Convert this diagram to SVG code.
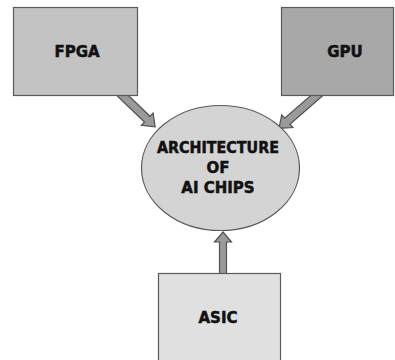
<svg xmlns="http://www.w3.org/2000/svg" width="395" height="360" viewBox="0 0 395 360">
<style>
.box{stroke:#5a5a5a;stroke-width:1.2}
.lbl{font-family:"DejaVu Sans","Liberation Sans",sans-serif;font-weight:bold;font-size:15px;fill:#111;stroke:#111;stroke-width:0.5;text-anchor:middle}
.arr{fill:#9a9a9a;stroke:#505050;stroke-width:1.2;stroke-linejoin:miter}
</style>
<rect width="395" height="360" fill="#fff"/>
<g id="connectors">
<polygon class="arr" transform="translate(117,90) rotate(44)" points="0,-4 42,-4 42,-8.5 53,0 42,8.5 42,4 0,4"/>
<polygon class="arr" transform="translate(322,91) rotate(139)" points="0,-4 46,-4 46,-8.5 57,0 46,8.5 46,4 0,4"/>
<polygon class="arr" transform="translate(223,276) rotate(-90)" points="0,-3.5 34,-3.5 34,-8.5 44,0 34,8.5 34,3.5 0,3.5"/>
</g>
<g id="fpga">
<rect class="box" x="13.5" y="7.5" width="124" height="88" fill="#c3c3c3"/>
<text class="lbl" x="77" y="57" font-size="16">FPGA</text>
</g>
<g id="gpu">
<rect class="box" x="281.5" y="7.5" width="112" height="88" fill="#a8a8a8"/>
<text class="lbl" x="345" y="57" font-size="16">GPU</text>
</g>
<g id="arch">
<ellipse class="box" cx="220.5" cy="168" rx="79" ry="62.5" fill="#d4d4d4"/>
<text class="lbl" x="218" y="153" textLength="122" lengthAdjust="spacingAndGlyphs">ARCHITECTURE</text>
<text class="lbl" x="218" y="173">OF</text>
<text class="lbl" x="218" y="193">AI CHIPS</text>
</g>
<g id="asic">
<rect class="box" x="158.5" y="273.5" width="122" height="92" fill="#e0e0e0"/>
<text class="lbl" x="218" y="323" font-size="16">ASIC</text>
</g>
</svg>
